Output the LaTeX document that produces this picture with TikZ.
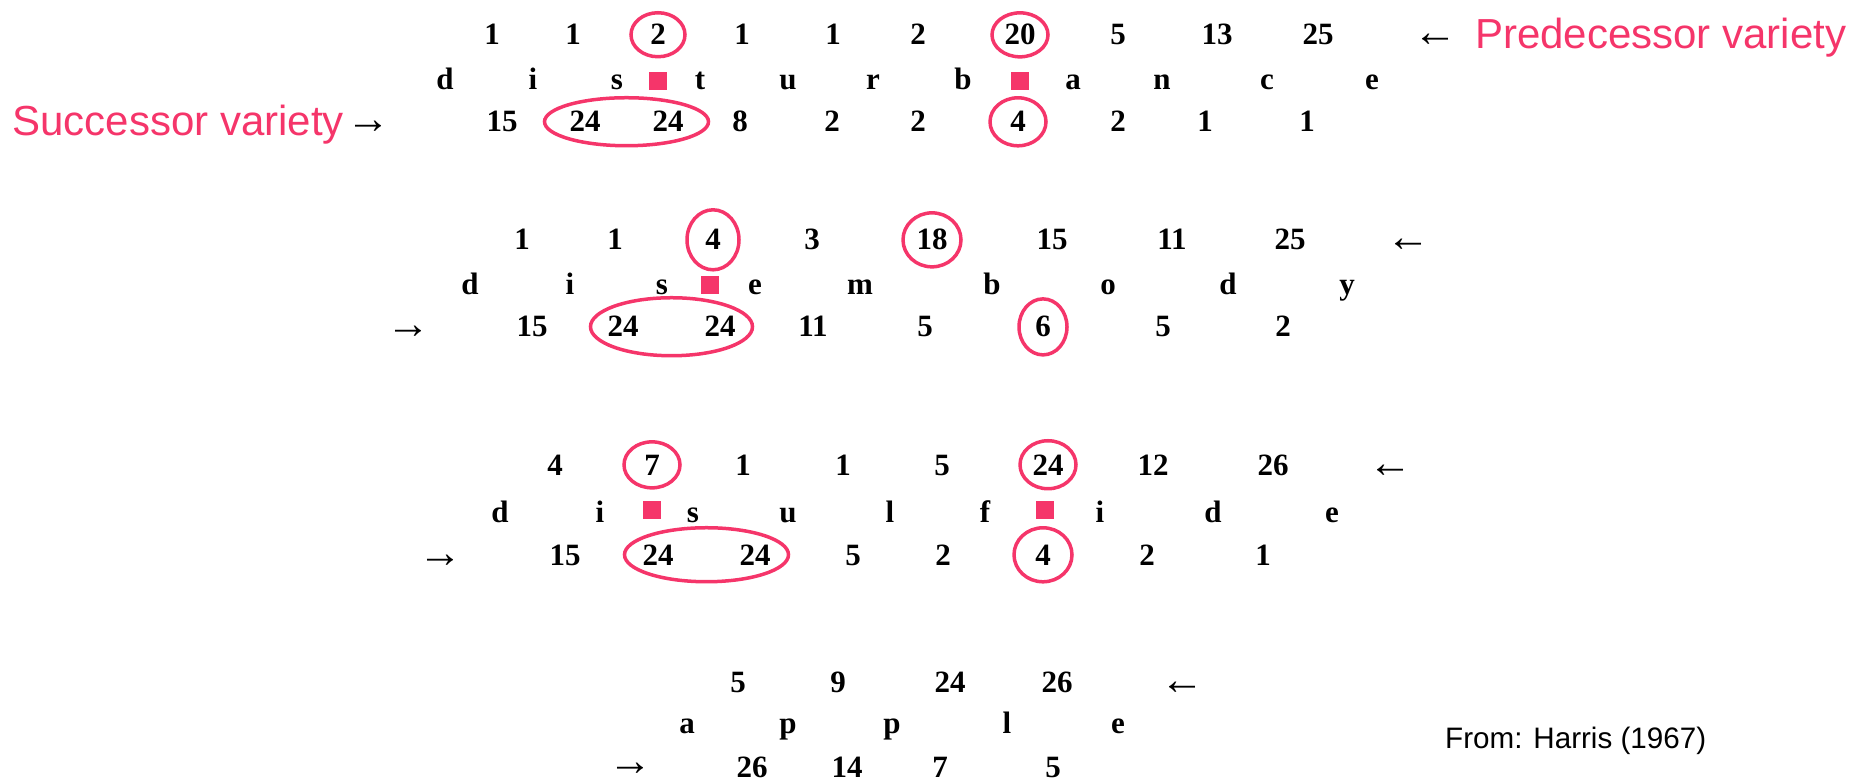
\documentclass[tikz,border=0pt]{standalone}
\usepackage{fontspec}
\setmainfont{Liberation Serif}
\newfontfamily\labelsans{Liberation Sans}
\usetikzlibrary{calc}
\definecolor{hot}{HTML}{F5356A}
\begin{document}
\begin{tikzpicture}[x=1pt,y=-1pt,
  txt/.style={anchor=base,inner sep=0pt,font=\fontsize{31}{31}\selectfont\bfseries},
  arr/.style={anchor=base,inner sep=0pt,yshift=-2pt,font=\fontsize{44}{44}\selectfont\bfseries},
  hl/.style={draw=hot,line width=3.5pt},
  cut/.style={fill=hot,minimum size=18pt,inner sep=0pt},
  lab/.style={anchor=base west,inner sep=0pt,text=hot,font=\labelsans\fontsize{42}{42}\selectfont},
  src/.style={anchor=base west,inner sep=0pt,font=\labelsans\fontsize{29.6}{29.6}\selectfont}]
\useasboundingbox (0,0) rectangle (1860,783);

% ---------- block 1: disturbance ----------
\foreach \x/\t [count=\i] in {492/1,573/1,658/2,742/1,833/1,918/2,1020/20,1118/5,1217/13,1318/25}
  \node[txt] (a1-\i) at (\x,45) {\t};
\foreach \x/\t [count=\i] in {445/d,533/i,617/s,700/t,788/u,873/r,963/b,1073/a,1162/n,1267/c,1372/e}
  \node[txt] (l1-\i) at (\x,90) {\t};
\foreach \x/\t [count=\i] in {502/15,585/24,668/24,740/8,832/2,918/2,1018/4,1118/2,1205/1,1307/1}
  \node[txt] (b1-\i) at (\x,132) {\t};
\node[arr] (pl1) at (1435,45) {←};
\node[arr] (sr1) at (368,132) {→};
\node[cut] (s1-1) at (658,81) {};
\node[cut] (s1-2) at (1020,81) {};
\draw[hl] (a1-3.center) ellipse [x radius=27pt, y radius=22pt];
\draw[hl] (a1-7.center) ellipse [x radius=28pt, y radius=22pt];
\draw[hl] ($(b1-2.center)!0.5!(b1-3.center)$) ellipse [x radius=82pt, y radius=24pt];
\draw[hl] (b1-7.center) ellipse [x radius=28pt, y radius=24pt];
\node[lab] (predlab) at (1475,49) {Predecessor variety};
\node[lab,anchor=base east] (succlab) at (344,136) {Successor variety};

% ---------- block 2: disembody ----------
\foreach \x/\t [count=\i] in {522/1,615/1,713/4,812/3,932/18,1052/15,1172/11,1290/25}
  \node[txt] (a2-\i) at (\x,250) {\t};
\foreach \x/\t [count=\i] in {470/d,570/i,662/s,755/e,860/m,992/b,1108/o,1228/d,1347/y}
  \node[txt] (l2-\i) at (\x,295) {\t};
\foreach \x/\t [count=\i] in {532/15,623/24,720/24,813/11,925/5,1043/6,1163/5,1283/2}
  \node[txt] (b2-\i) at (\x,337) {\t};
\node[arr] (pl2) at (1408,250) {←};
\node[arr] (sr2) at (408,337) {→};
\node[cut] (s2-1) at (710,285) {};
\draw[hl] (a2-3.center) ellipse [x radius=26pt, y radius=30pt];
\draw[hl] (a2-5.center) ellipse [x radius=29pt, y radius=27pt];
\draw[hl] ($(b2-2.center)!0.5!(b2-3.center)$) ellipse [x radius=81pt, y radius=29pt];
\draw[hl] (b2-6.center) ellipse [x radius=24pt, y radius=28pt];

% ---------- block 3: disulfide ----------
\foreach \x/\t [count=\i] in {555/4,652/7,743/1,843/1,942/5,1048/24,1153/12,1273/26}
  \node[txt] (a3-\i) at (\x,475) {\t};
\foreach \x/\t [count=\i] in {500/d,600/i,693/s,788/u,890/l,985/f,1100/i,1213/d,1332/e}
  \node[txt] (l3-\i) at (\x,522) {\t};
\foreach \x/\t [count=\i] in {565/15,658/24,755/24,853/5,943/2,1043/4,1147/2,1263/1}
  \node[txt] (b3-\i) at (\x,565) {\t};
\node[arr] (pl3) at (1390,475) {←};
\node[arr] (sr3) at (440,565) {→};
\node[cut] (s3-1) at (652,510) {};
\node[cut] (s3-2) at (1045,510) {};
\draw[hl] (a3-2.center) ellipse [x radius=28pt, y radius=23pt];
\draw[hl] (a3-6.center) ellipse [x radius=28pt, y radius=24pt];
\draw[hl] ($(b3-2.center)!0.5!(b3-3.center)$) ellipse [x radius=82pt, y radius=27pt];
\draw[hl] (b3-6.center) ellipse [x radius=29pt, y radius=27pt];

% ---------- block 4: apple ----------
\foreach \x/\t [count=\i] in {738/5,838/9,950/24,1057/26}
  \node[txt] (a4-\i) at (\x,692) {\t};
\foreach \x/\t [count=\i] in {687/a,788/p,892/p,1007/l,1118/e}
  \node[txt] (l4-\i) at (\x,733) {\t};
\foreach \x/\t [count=\i] in {752/26,847/14,940/7,1053/5}
  \node[txt] (b4-\i) at (\x,777) {\t};
\node[arr] (pl4) at (1182,692) {←};
\node[arr,yshift=4pt] (sr4) at (630,777) {→};

\node[src] (source) at (1445,748) {From: Harris (1967)};
\end{tikzpicture}
\end{document}
